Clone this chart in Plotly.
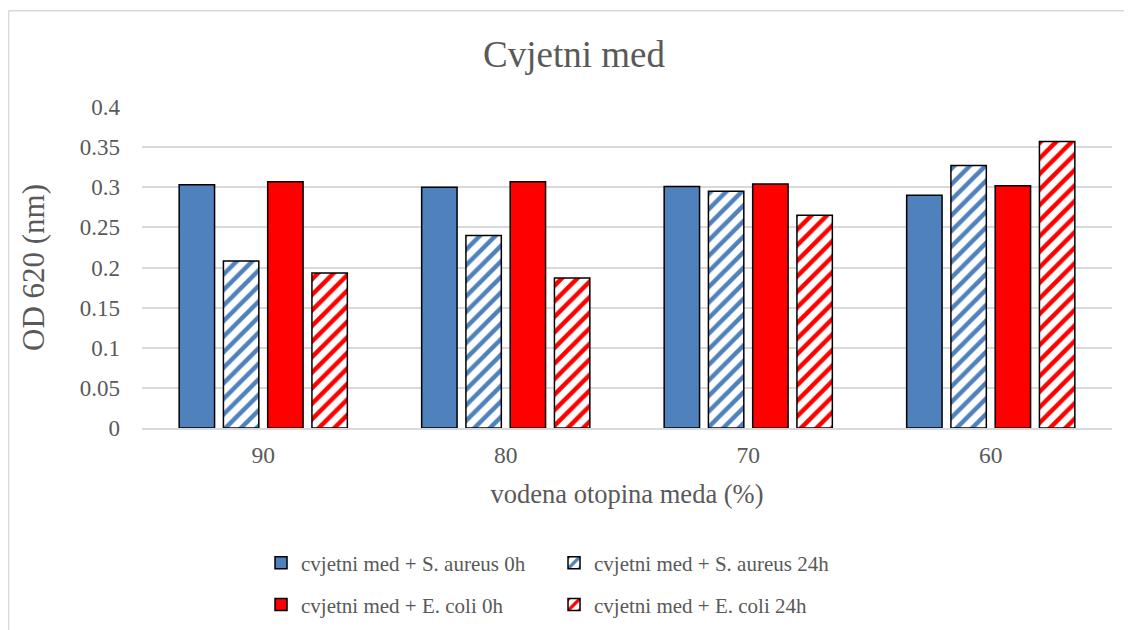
import plotly.graph_objects as go

categories = ["90", "80", "70", "60"]
sa_0h = [0.303, 0.300, 0.301, 0.290]
sa_24h = [0.208, 0.240, 0.295, 0.327]
ec_0h = [0.307, 0.307, 0.304, 0.302]
ec_24h = [0.193, 0.187, 0.265, 0.357]

names = [
    "cvjetni med + S. aureus 0h",
    "cvjetni med + S. aureus 24h",
    "cvjetni med + E. coli 0h",
    "cvjetni med + E. coli 24h",
]
BLUE = "#4F81BD"
RED = "#FF0000"
FONT = "Times New Roman, Liberation Serif, DejaVu Serif, serif"
GREY = "#595959"

fig = go.Figure()
series = [
    (sa_0h, names[0], BLUE, False, "legend"),
    (sa_24h, names[1], BLUE, True, "legend"),
    (ec_0h, names[2], RED, False, "legend2"),
    (ec_24h, names[3], RED, True, "legend2"),
]
for vals, name, col, hatched, lg in series:
    if hatched:
        marker = dict(color="white", line=dict(color="black", width=1.5),
                      pattern=dict(shape="/", fgcolor=col, bgcolor="white", fgopacity=1,
                                   size=11, solidity=0.4, fillmode="replace"))
    else:
        marker = dict(color=col, line=dict(color="black", width=1.5))
    fig.add_trace(go.Bar(x=categories, y=vals, name=name, marker=marker, legend=lg))

fig.update_layout(
    width=1132, height=630,
    margin=dict(l=134, r=28, t=99, b=205),
    paper_bgcolor="white", plot_bgcolor="white",
    font=dict(family=FONT, color=GREY, size=21),
    title=dict(text="Cvjetni med", x=0.5, xanchor="center", y=0.9275, yanchor="middle",
               font=dict(family=FONT, size=37, color=GREY)),
    barmode="group", bargap=0.27, bargroupgap=0.2,
    legend=dict(orientation="h", x=0.1227, xanchor="left", y=-0.4206, yanchor="middle",
                entrywidth=248, font=dict(family=FONT, size=21, color=GREY),
                itemwidth=30, bgcolor="rgba(0,0,0,0)"),
    legend2=dict(orientation="h", x=0.1227, xanchor="left", y=-0.5512, yanchor="middle",
                 entrywidth=248, font=dict(family=FONT, size=21, color=GREY),
                 itemwidth=30, bgcolor="rgba(0,0,0,0)"),
    xaxis=dict(showgrid=False, showline=True, linecolor="#D9D9D9", linewidth=1.5,
               ticks="", tickfont=dict(family=FONT, size=23.5, color=GREY), ticklabelstandoff=5,
               title=dict(text="vodena otopina meda (%)", standoff=17,
                          font=dict(family=FONT, size=26.5, color=GREY))),
    yaxis=dict(range=[0, 0.4], dtick=0.05, showgrid=True, gridcolor="#D9D9D9", gridwidth=1.5,
               zeroline=False, ticks="", tickformat="~g",
               tickfont=dict(family=FONT, size=23, color=GREY), ticklabelstandoff=21,
               title=dict(text="OD 620 (nm)", standoff=25,
                          font=dict(family=FONT, size=31, color=GREY))),
    shapes=[
        dict(type="line", xref="paper", yref="paper", x0=-0.1376, x1=1.03, y0=1.300, y1=1.300,
             line=dict(color="#D9D9D9", width=1.5)),
        dict(type="line", xref="paper", yref="paper", x0=-0.1376, x1=-0.1376, y0=1.300, y1=-0.66,
             line=dict(color="#D9D9D9", width=1.5)),
    ],
)
fig.write_html("out.html")
